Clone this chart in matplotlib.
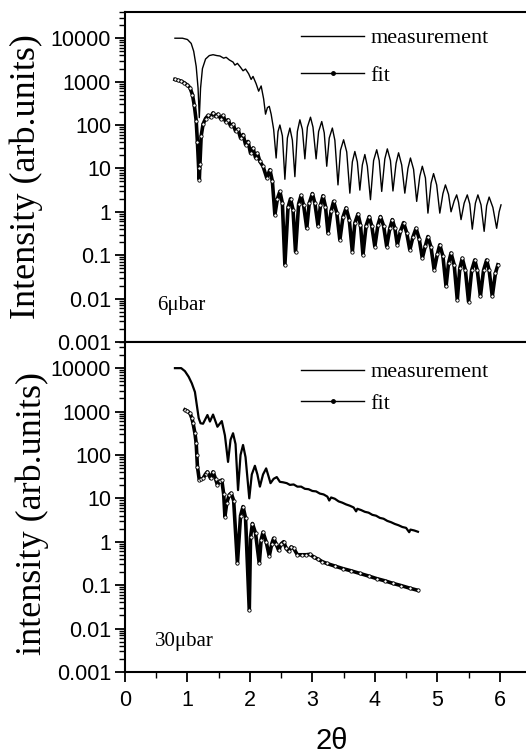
import numpy as np
import matplotlib
matplotlib.use('Agg')
import matplotlib.pyplot as plt
from matplotlib.lines import Line2D
from matplotlib.ticker import FixedLocator, FixedFormatter, LogLocator, NullFormatter, MultipleLocator

# ---- data (x = 2theta, y given as log10 of intensity) ----
# 6 ubar, measurement
m6_x = [0.80, 0.92, 1.00, 1.06, 1.10, 1.14, 1.17, 1.19, 1.21, 1.24, 1.29, 1.35, 1.41, 1.47, 1.52,
        1.58, 1.62, 1.67, 1.73, 1.76, 1.80, 1.85, 1.89, 1.93, 1.98, 2.02, 2.05, 2.10, 2.14, 2.18,
        2.22, 2.25, 2.28, 2.31, 2.34, 2.38, 2.42,
        2.45, 2.48, 2.52, 2.56, 2.60, 2.64, 2.68, 2.72, 2.76, 2.80, 2.84, 2.88,
        2.92, 2.97, 3.01, 3.06, 3.10, 3.15, 3.19, 3.23, 3.27, 3.32, 3.36, 3.41,
        3.45, 3.50, 3.55, 3.60, 3.64, 3.68, 3.72, 3.76, 3.80, 3.84, 3.88, 3.93,
        3.98, 4.03, 4.07, 4.11, 4.16, 4.20, 4.25, 4.29, 4.34, 4.38, 4.43, 4.48,
        4.53, 4.57, 4.62, 4.67, 4.72, 4.76, 4.81, 4.85, 4.90, 4.94, 4.99, 5.04,
        5.09, 5.13, 5.18, 5.22, 5.27, 5.31, 5.34, 5.38, 5.43, 5.48, 5.52, 5.56,
        5.61, 5.65, 5.70, 5.75, 5.79, 5.83, 5.89, 5.95, 5.99, 6.02]
m6_logy = [4.00, 4.00, 3.97, 3.88, 3.70, 3.35, 2.85, 2.17, 2.85, 3.30, 3.52, 3.60, 3.62, 3.60, 3.59,
           3.54, 3.56, 3.50, 3.45, 3.38, 3.42, 3.33, 3.25, 3.29, 3.18, 3.05, 3.12, 2.95, 2.78, 2.90,
           2.60, 2.25, 2.40, 2.43, 2.25, 1.90, 1.24,
           1.85, 2.00, 1.75, 0.75, 1.70, 1.93, 1.65, 0.81, 1.85, 2.12, 1.90, 1.22,
           1.95, 2.18, 1.95, 1.22, 1.85, 2.08, 1.82, 1.05, 1.70, 1.93, 1.65, 0.62,
           1.42, 1.66, 1.38, 0.43, 1.15, 1.39, 1.15, 0.50, 1.08, 1.32, 1.05, 0.28,
           1.18, 1.43, 1.18, 0.47, 1.22, 1.45, 1.18, 0.48, 1.12, 1.36, 1.08, 0.43,
           1.00, 1.24, 0.98, 0.24, 0.82, 1.05, 0.78, -0.03, 0.66, 0.88, 0.62, -0.03,
           0.42, 0.62, 0.40, 0.00, 0.25, 0.39, 0.22, -0.18, 0.20, 0.39, 0.18, -0.40,
           0.20, 0.39, 0.16, -0.45, 0.14, 0.34, 0.10, -0.38, 0.00, 0.16]

# 6 ubar, fit
f6_x = [0.80, 0.85, 0.90, 0.95, 1.00, 1.04, 1.08, 1.11, 1.14, 1.16, 1.18, 1.19, 1.20, 1.22, 1.25,
        1.29, 1.33, 1.37, 1.41, 1.45, 1.49, 1.53, 1.57, 1.61, 1.65, 1.69, 1.73, 1.77, 1.81, 1.85,
        1.89, 1.93, 1.97, 2.01, 2.05, 2.09, 2.12, 2.16, 2.21, 2.27, 2.32, 2.36, 2.40,
        2.44, 2.48, 2.52, 2.56, 2.61, 2.65, 2.69, 2.73, 2.78, 2.82, 2.86, 2.91,
        2.95, 3.00, 3.04, 3.09, 3.13, 3.17, 3.21, 3.25, 3.30, 3.34, 3.39, 3.44,
        3.49, 3.54, 3.59, 3.64, 3.68, 3.73, 3.77, 3.81, 3.86, 3.91, 3.95, 4.00,
        4.05, 4.09, 4.14, 4.19, 4.24, 4.28, 4.32, 4.36, 4.41, 4.46, 4.51, 4.56,
        4.61, 4.66, 4.71, 4.76, 4.81, 4.85, 4.90, 4.95, 5.00, 5.04, 5.09, 5.14,
        5.18, 5.22, 5.27, 5.32, 5.36, 5.40, 5.45, 5.50, 5.55, 5.60, 5.64, 5.69,
        5.74, 5.79, 5.83, 5.88, 5.93, 5.97]
f6_logy = [3.05, 3.03, 3.01, 2.97, 2.92, 2.86, 2.70, 2.45, 2.10, 1.60, 1.00, 0.74, 1.10, 1.75, 2.02,
           2.15, 2.22, 2.18, 2.28, 2.20, 2.25, 2.15, 2.22, 2.08, 2.12, 1.98, 2.02, 1.86, 1.90, 1.70,
           1.78, 1.55, 1.62, 1.35, 1.47, 1.25, 1.35, 1.16, 1.05, 0.78, 0.97, 0.70, -0.07,
           0.30, 0.47, 0.20, -1.22, 0.10, 0.30, 0.05, -0.92, 0.18, 0.38, 0.15, -0.38,
           0.20, 0.42, 0.20, -0.32, 0.15, 0.37, 0.12, -0.49, 0.02, 0.24, -0.02, -0.65,
           -0.12, 0.09, -0.18, -0.92, -0.26, -0.05, -0.30, -0.99, -0.32, -0.11, -0.32, -0.80,
           -0.30, -0.11, -0.32, -0.80, -0.38, -0.18, -0.38, -0.76, -0.45, -0.25, -0.48, -0.88,
           -0.58, -0.38, -0.62, -1.07, -0.78, -0.57, -0.82, -1.34, -0.98, -0.76, -1.02, -1.72,
           -1.18, -0.95, -1.22, -2.03, -1.30, -1.07, -1.35, -2.07, -1.35, -1.11, -1.35, -1.95,
           -1.35, -1.11, -1.35, -1.95, -1.42, -1.22]

# 30 ubar, measurement
m30_x = [0.80, 0.90, 0.96, 1.02, 1.07, 1.12, 1.15, 1.18, 1.21, 1.25, 1.32, 1.36, 1.41, 1.48, 1.55,
         1.60, 1.65, 1.69, 1.73, 1.77, 1.81, 1.85, 1.89, 1.93, 1.99, 2.03, 2.08, 2.12, 2.16, 2.21,
         2.26, 2.30, 2.33, 2.38, 2.43, 2.48, 2.53, 2.59, 2.64, 2.70, 2.76, 2.82, 2.88, 2.94, 3.00,
         3.06, 3.12, 3.18, 3.24, 3.27, 3.30, 3.36, 3.42, 3.48, 3.54, 3.60, 3.66, 3.70, 3.72, 3.78,
         3.84, 3.90, 3.96, 4.02, 4.08, 4.14, 4.20, 4.26, 4.32, 4.38, 4.44, 4.50, 4.55, 4.57, 4.63,
         4.69]
m30_logy = [4.00, 4.00, 3.93, 3.80, 3.65, 3.45, 3.15, 2.85, 2.73, 2.72, 2.92, 2.77, 2.93, 2.65, 2.78,
            2.45, 1.84, 2.35, 2.50, 2.25, 1.19, 2.00, 2.23, 1.95, 1.00, 1.55, 1.75, 1.55, 1.27, 1.55,
            1.69, 1.50, 1.35, 1.45, 1.49, 1.38, 1.37, 1.35, 1.31, 1.32, 1.27, 1.27, 1.22, 1.21, 1.17,
            1.16, 1.11, 1.09, 1.04, 0.95, 1.02, 0.99, 0.93, 0.90, 0.86, 0.83, 0.79, 0.70, 0.76, 0.73,
            0.69, 0.67, 0.62, 0.60, 0.55, 0.53, 0.48, 0.45, 0.41, 0.38, 0.34, 0.32, 0.22, 0.28, 0.26,
            0.23]

# 30 ubar, fit
f30_x = [0.96, 1.00, 1.04, 1.07, 1.09, 1.12, 1.14, 1.15, 1.16, 1.19, 1.22, 1.25, 1.29, 1.32, 1.37,
         1.41, 1.45, 1.48, 1.52, 1.55, 1.58, 1.60, 1.63, 1.67, 1.70, 1.74, 1.80, 1.85, 1.89, 1.93,
         1.99, 2.01, 2.04, 2.09, 2.15, 2.18, 2.21, 2.26, 2.31, 2.35, 2.38, 2.42, 2.46, 2.50, 2.54,
         2.58, 2.62, 2.66, 2.70, 2.76, 2.83, 2.90, 2.96, 3.03, 3.09, 3.16, 3.23, 3.36, 3.49, 3.62,
         3.76, 3.90, 4.03, 4.16, 4.29, 4.42, 4.56, 4.69]
f30_logy = [3.04, 3.01, 2.96, 2.85, 2.73, 2.50, 2.27, 2.00, 1.73, 1.42, 1.44, 1.46, 1.56, 1.61, 1.46,
            1.61, 1.45, 1.31, 1.40, 1.42, 1.10, 0.58, 0.90, 1.08, 1.12, 0.95, -0.50, 0.60, 0.81, 0.55,
            -1.58, 0.10, 0.42, 0.20, -0.50, 0.05, 0.22, 0.00, -0.33, -0.05, 0.08, -0.05, -0.20, -0.05, 0.00,
            -0.15, -0.22, -0.12, -0.15, -0.30, -0.30, -0.30, -0.29, -0.36, -0.40, -0.46, -0.50, -0.56, -0.62, -0.67,
            -0.73, -0.79, -0.85, -0.90, -0.96, -1.01, -1.07, -1.12]

ytick_vals = [0.001, 0.01, 0.1, 1, 10, 100, 1000, 10000]
ytick_txt = ['0.001', '0.01', '0.1', '1', '10', '100', '1000', '10000']

plt.rcParams['font.family'] = ['Liberation Sans', 'DejaVu Sans']

fig = plt.figure(figsize=(5.26, 7.55), dpi=100)
ax1 = fig.add_axes([0.2376, 0.547, 0.7624, 0.437])
ax2 = fig.add_axes([0.2376, 0.110, 0.7624, 0.437])

serif = ['Liberation Serif', 'DejaVu Serif']

def style(ax):
    ax.set_yscale('log')
    ax.set_ylim(1e-3, 4e4)
    ax.set_xlim(0, 6.42)
    ax.yaxis.set_major_locator(FixedLocator(ytick_vals))
    ax.yaxis.set_major_formatter(FixedFormatter(ytick_txt))
    ax.yaxis.set_minor_locator(LogLocator(base=10, subs=np.arange(2, 10)))
    ax.yaxis.set_minor_formatter(NullFormatter())
    ax.xaxis.set_major_locator(MultipleLocator(1))
    ax.xaxis.set_minor_locator(MultipleLocator(0.5))
    ax.tick_params(which='major', direction='out', length=7, width=1.3, labelsize=15.5, pad=3)
    ax.tick_params(which='minor', direction='out', length=4, width=1.0)
    ax.spines['right'].set_visible(False)
    for s in ['left', 'bottom', 'top']:
        ax.spines[s].set_linewidth(1.5)

def draw(ax, mx, my, fx, fy, mlw):
    ax.plot(mx, 10 ** np.array(my), color='black', lw=mlw)
    ax.plot(fx, 10 ** np.array(fy), color='black', lw=2.6, marker='o', ms=2.4,
            mfc='white', mec='black', mew=0.6)

style(ax1)
style(ax2)
draw(ax1, m6_x, m6_logy, f6_x, f6_logy, 1.0)
draw(ax2, m30_x, m30_logy, f30_x, f30_logy, 1.6)
ax1.tick_params(axis='x', labelbottom=False)
ax2.tick_params(axis='x', labelsize=15.5, pad=6)

handles = [Line2D([], [], color='black', lw=1.0),
           Line2D([], [], color='black', lw=1.0, marker='o', ms=2.5, mfc='black')]
for ax, top, sp in [(ax1, 0.952, 0.75), (ax2, 0.94, 0.5)]:
    ax.legend(handles, ['measurement', 'fit'], loc='upper left', bbox_to_anchor=(0.44, top),
              frameon=False, borderpad=0, borderaxespad=0, handlelength=2.8,
              handletextpad=0.3, labelspacing=sp, numpoints=1,
              prop={'family': serif, 'size': 16})

ax1.text(0.08, 0.112, '6\u03bcbar', transform=ax1.transAxes, fontsize=15, family=serif, va='center')
ax2.text(0.075, 0.091, '30\u03bcbar', transform=ax2.transAxes, fontsize=15, family=serif, va='center')

ax1.set_ylabel('Intensity (arb.units)', fontsize=26, family=serif)
ax1.yaxis.set_label_coords(-0.205, 0.5)
ax2.set_ylabel('intensity (arb.units)', fontsize=26, family=serif)
ax2.yaxis.set_label_coords(-0.19, 0.48)

fig.text(332 / 526, 1 - 741 / 755, '2\u03b8', fontsize=21, ha='center', va='center')

fig.savefig('out.png', dpi=100)
